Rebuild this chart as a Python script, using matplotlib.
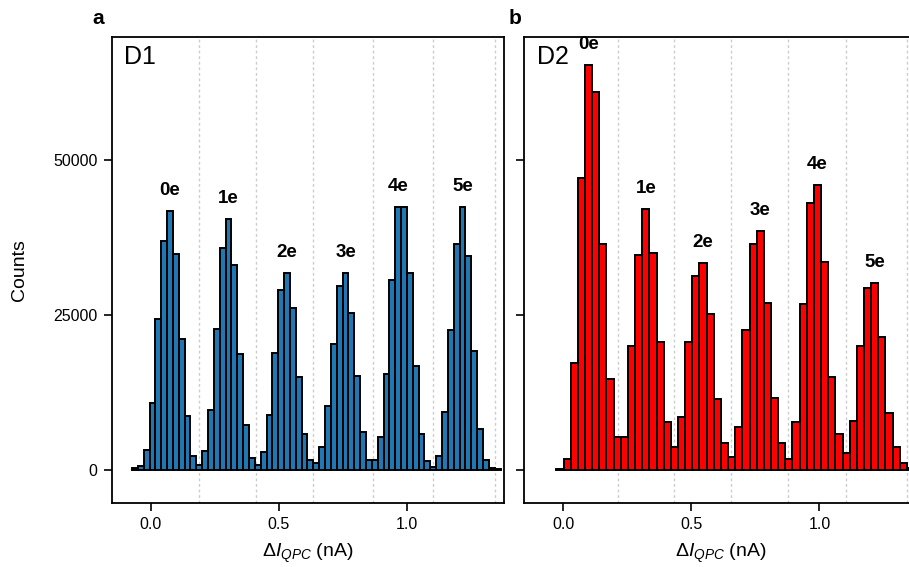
import numpy as np
import matplotlib
matplotlib.use('Agg')
import matplotlib.pyplot as plt

plt.rcParams['font.family'] = ['Liberation Sans', 'DejaVu Sans']
plt.rcParams['mathtext.fontset'] = 'custom'
plt.rcParams['mathtext.rm'] = 'Liberation Sans'
plt.rcParams['mathtext.it'] = 'Liberation Sans:italic'
plt.rcParams['mathtext.bf'] = 'Liberation Sans:bold'

# histogram of device D1 (counts per bin, bins start at d1_start)
d1_start = -0.0723
d1_width = 0.02282
d1_counts = [300, 590, 3280, 10800, 24400, 36900, 41750, 34750, 21100, 8660,
             2200, 750, 3000, 9700, 22800, 35800, 40500, 33100, 18700, 7200,
             1940, 860, 2900, 8800, 18900, 29050, 31750, 26150, 15060, 5800,
             1560, 1080, 3660, 10400, 20400, 29600, 31750, 25340, 15200, 6130,
             1670, 1560, 5380, 15550, 30560, 42450, 42400, 31700, 16800, 5800,
             1400, 540, 2200, 9360, 22600, 36500, 42450, 34500, 19150, 6670,
             1610, 320, 200]

# histogram of device D2
d2_start = -0.0258
d2_width = 0.0279
d2_counts = [150, 1770, 17200, 47150, 65300, 61000, 36450, 14700, 5270, 5270,
             20000, 34700, 42100, 34950, 20600, 7800, 3760, 8500, 20700, 31350,
             33330, 25160, 11450, 4300, 2040, 6880, 22580, 36450, 38550, 26880,
             11560, 4300, 1830, 7800, 26720, 43000, 45970, 33600, 14950, 5860,
             2800, 7960, 20050, 29400, 30100, 21450, 9140, 3760, 1075, 270]

# charge state thresholds (dotted lines)
d1_bounds = [0.189, 0.410, 0.635, 0.867, 1.102, 1.344]
d2_bounds = [0.215, 0.434, 0.654, 0.877, 1.103, 1.341]
peak_labels = ['0e', '1e', '2e', '3e', '4e', '5e']


def draw_panel(ax, start, width, counts, bounds, color, name):
    counts = np.array(counts)
    edges = start + width * np.arange(len(counts))
    centers = edges + width / 2
    for b in bounds:
        ax.axvline(b, color='0.8', linestyle=(0, (2, 2)), linewidth=1.0, zorder=0)
    ax.bar(edges, counts, width=width, align='edge', color=color,
           edgecolor='black', linewidth=1.4, zorder=2)
    # label each charge peak above its highest bin
    lims = [-np.inf] + bounds[:-1] + [np.inf]
    for i, lab in enumerate(peak_labels):
        sel = (centers >= lims[i]) & (centers < lims[i + 1])
        j = np.argmax(np.where(sel, counts, -1))
        ax.text(centers[j], counts[j] + 3300, lab, ha='center', va='center',
                fontsize=13.5, fontweight='bold', zorder=3)
    ax.text(0.032, 0.957, name, transform=ax.transAxes, fontsize=18,
            ha='left', va='center')
    ax.set_xlim(-0.152, 1.379)
    ax.set_ylim(-5300, 69800)
    ax.set_xticks([0.0, 0.5, 1.0])
    ax.set_yticks([0, 25000, 50000])
    ax.set_xlabel(r'$\Delta I_{QPC}$ (nA)', fontsize=14)
    ax.xaxis.set_label_coords(0.5, -0.083)
    ax.tick_params(labelsize=11.5, width=1.2, length=6, pad=4)
    for s in ax.spines.values():
        s.set_linewidth(1.3)


fig = plt.figure(figsize=(9.09, 5.67), dpi=100)
ax1 = fig.add_axes([0.1227, 0.1129, 0.4318, 0.8219])
ax2 = fig.add_axes([0.5765, 0.1129, 0.4318, 0.8219])

draw_panel(ax1, d1_start, d1_width, d1_counts, d1_bounds, '#1f77b4', 'D1')
draw_panel(ax2, d2_start, d2_width, d2_counts, d2_bounds, '#ff0000', 'D2')

ax1.set_ylabel('Counts', fontsize=14)
ax1.yaxis.set_label_coords(-0.213, 0.5)
ax2.set_yticklabels([])

fig.text(98 / 909, 1 - 18 / 567, 'a', fontsize=15, fontweight='bold', ha='center', va='center')
fig.text(515 / 909, 1 - 18 / 567, 'b', fontsize=15, fontweight='bold', ha='center', va='center')

fig.savefig('out.png', dpi=100)
